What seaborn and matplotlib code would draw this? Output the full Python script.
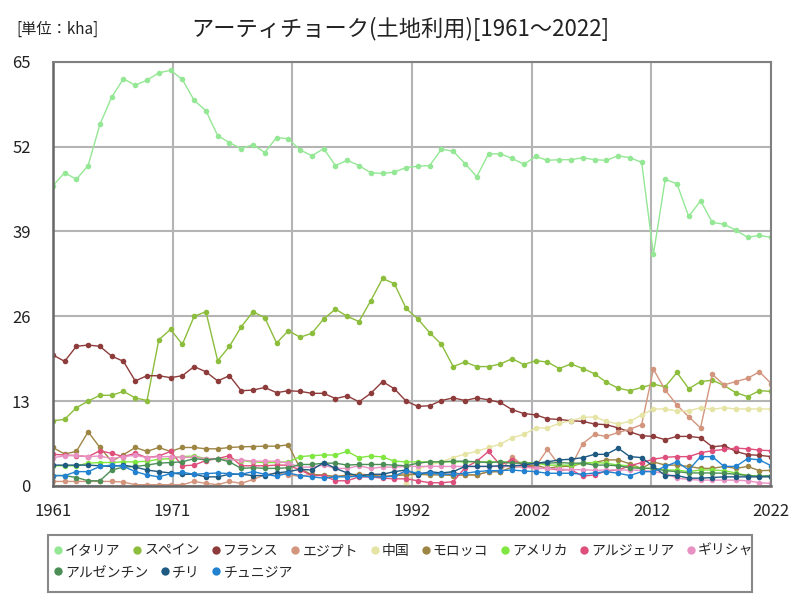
import numpy as np
import pandas as pd
import matplotlib
matplotlib.use("Agg")
import matplotlib.pyplot as plt
from matplotlib.lines import Line2D
from matplotlib.patches import Rectangle
import seaborn as sns

# data (kha)
years = list(range(1961, 2023))

italy = [46.0, 48.0, 47.0, 49.1, 55.4, 59.6, 62.4, 61.4, 62.2, 63.3,
         63.7, 62.3, 59.1, 57.5, 53.7, 52.6, 51.7, 52.3, 51.1, 53.4,
         53.2, 51.5, 50.6, 51.7, 49.1, 49.9, 49.1, 48.0, 47.9, 48.1,
         48.8, 49.0, 49.1, 51.6, 51.3, 49.4, 47.4, 50.9, 50.9, 50.2,
         49.3, 50.5, 49.9, 50.0, 50.0, 50.3, 50.0, 49.9, 50.6, 50.3,
         49.6, 35.5, 47.0, 46.3, 41.3, 43.7, 40.4, 40.1, 39.2, 38.1,
         38.4, 38.1]
spain = [10.0, 10.2, 12.0, 13.0, 13.9, 13.9, 14.5, 13.5, 13.1, 22.4,
         24.0, 21.7, 26.0, 26.7, 19.2, 21.4, 24.4, 26.7, 25.8, 21.9,
         23.8, 22.8, 23.4, 25.6, 27.1, 26.0, 25.2, 28.4, 31.8, 31.0,
         27.2, 25.6, 23.5, 21.7, 18.3, 19.0, 18.3, 18.3, 18.7, 19.5,
         18.6, 19.2, 19.0, 18.0, 18.7, 18.0, 17.2, 15.9, 15.0, 14.6,
         15.1, 15.6, 15.2, 17.4, 14.9, 16.0, 16.2, 15.4, 14.3, 13.7,
         14.6, 14.5]
france = [20.1, 19.1, 21.4, 21.6, 21.4, 19.9, 19.1, 16.1, 16.9, 16.9,
          16.6, 16.9, 18.3, 17.5, 16.1, 16.9, 14.6, 14.7, 15.1, 14.3,
          14.6, 14.5, 14.2, 14.2, 13.4, 13.8, 12.9, 14.2, 16.0, 14.9,
          13.0, 12.2, 12.3, 13.1, 13.5, 13.1, 13.5, 13.2, 12.8, 11.7,
          11.1, 10.9, 10.3, 10.2, 10.0, 9.9, 9.5, 9.4, 8.9, 8.3,
          7.7, 7.6, 7.1, 7.6, 7.6, 7.4, 6.0, 6.2, 5.3, 4.8,
          4.7, 4.5]
egypt = [0.7, 0.7, 0.7, 0.7, 0.7, 0.7, 0.6, 0.2, 0.2, 0.2,
         0.2, 0.2, 0.7, 0.4, 0.2, 0.7, 0.4, 1.0, 1.7, 2.0,
         1.7, 1.5, 1.8, 1.6, 1.5, 1.6, 1.5, 1.8, 1.5, 1.6,
         2.0, 2.0, 1.9, 1.9, 2.1, 1.7, 1.7, 2.2, 2.2, 4.5,
         3.0, 3.0, 5.6, 3.2, 3.0, 6.5, 7.9, 7.6, 8.2, 8.7,
         9.4, 17.9, 14.7, 12.4, 10.6, 8.9, 17.1, 15.5, 16.0, 16.5,
         17.5, 15.7]
china = [np.nan] * 30 + [
         0.5, 2.6, 3.2, 3.7, 4.35, 4.9, 5.3, 5.9, 6.4, 7.4,
         7.9, 8.9, 8.9, 9.6, 10.0, 10.5, 10.6, 9.9, 9.5, 9.9,
         10.9, 11.8, 11.8, 11.5, 11.5, 12.0, 11.75, 12.0, 11.8, 11.8,
         11.8, 11.8]
morocco = [5.9, 4.9, 5.3, 8.3, 5.9, 3.8, 4.8, 5.9, 5.3, 5.9,
           5.3, 5.9, 5.9, 5.7, 5.7, 5.9, 6.0, 6.05, 6.1, 6.1,
           6.3, 2.7, 1.7, 1.7, 1.4, 1.7, 1.8, 1.7, 1.4, 1.6,
           1.7, 1.8, 1.7, 1.7, 1.6, 1.7, 1.7, 2.2, 2.2, 2.9,
           3.0, 3.2, 2.7, 3.0, 3.0, 3.5, 3.6, 4.0, 4.0, 3.4,
           2.7, 3.7, 3.2, 3.2, 3.0, 2.7, 2.7, 3.0, 2.7, 3.0,
           2.35, 2.4]
usa = [3.1, 3.1, 3.1, 3.5, 3.6, 3.6, 3.7, 3.7, 3.8, 4.1,
       4.2, 4.5, 4.6, 4.2, 4.1, 4.2, 3.9, 3.7, 3.6, 3.6,
       3.7, 4.5, 4.65, 4.75, 4.75, 5.3, 4.35, 4.6, 4.45, 3.8,
       3.7, 3.7, 3.7, 3.7, 3.7, 3.7, 3.7, 3.7, 3.7, 3.7,
       3.6, 3.5, 3.2, 3.2, 3.2, 3.5, 3.6, 3.5, 3.2, 3.1,
       2.7, 2.7, 2.45, 2.45, 2.2, 2.45, 2.45, 2.35, 2.0, 1.6,
       1.5, 1.5]
algeria = [4.85, 4.75, 4.65, 4.5, 5.4, 5.0, 4.5, 5.0, 4.35, 4.6,
           5.3, 3.1, 3.2, 3.9, 4.2, 4.65, 3.1, 3.1, 3.1, 3.2,
           3.2, 2.45, 1.6, 1.6, 0.8, 0.8, 1.4, 1.4, 1.2, 1.1,
           1.1, 0.8, 0.5, 0.5, 0.66, 2.8, 3.8, 5.3, 3.2, 4.0,
           3.2, 2.7, 2.7, 2.45, 2.5, 1.5, 1.7, 2.3, 2.45, 3.1,
           3.6, 4.1, 4.4, 4.5, 4.5, 5.1, 5.4, 5.6, 5.8, 5.7,
           5.5, 5.4]
greece = [4.35, 4.6, 4.7, 4.5, 4.6, 4.2, 4.5, 4.7, 4.35, 4.5,
          4.5, 4.4, 4.4, 4.2, 4.2, 4.0, 4.0, 3.8, 3.8, 3.8,
          3.5, 2.9, 2.9, 3.2, 2.7, 2.7, 3.1, 2.7, 2.9, 2.9,
          3.0, 3.0, 3.0, 3.0, 3.0, 3.0, 3.0, 3.0, 3.0, 3.0,
          2.9, 2.7, 2.7, 2.6, 2.5, 2.5, 2.4, 2.45, 2.45, 2.45,
          2.4, 2.2, 1.95, 1.2, 1.0, 0.9, 0.9, 0.9, 0.9, 0.8,
          0.5, 0.4]
argentina = [1.6, 1.6, 1.3, 0.8, 0.8, 2.45, 2.9, 3.0, 3.2, 3.5,
             3.6, 3.7, 4.2, 4.0, 4.2, 3.7, 2.7, 2.8, 2.7, 2.7,
             2.8, 3.3, 3.3, 3.5, 3.5, 3.2, 3.3, 3.3, 3.3, 3.2,
             3.1, 3.5, 3.7, 3.7, 3.8, 3.8, 3.7, 3.6, 3.7, 3.5,
             3.5, 3.5, 3.5, 3.6, 3.5, 3.5, 3.2, 3.2, 3.1, 2.8,
             2.7, 2.7, 2.35, 2.2, 2.0, 2.0, 2.0, 1.95, 1.8, 1.6,
             1.5, 1.6]
chile = [3.2, 3.2, 3.2, 3.2, 3.1, 3.0, 3.2, 2.9, 2.45, 2.2,
         2.0, 1.8, 1.8, 1.4, 1.4, 1.8, 1.8, 1.6, 1.6, 2.0,
         2.2, 2.55, 2.45, 3.6, 2.7, 2.0, 1.5, 1.8, 1.8, 2.2,
         2.45, 1.7, 2.2, 2.0, 2.2, 3.0, 3.0, 3.0, 3.1, 3.1,
         3.2, 3.5, 3.7, 4.0, 4.1, 4.35, 4.85, 4.85, 5.8, 4.5,
         4.35, 3.0, 1.6, 1.6, 1.2, 1.2, 1.3, 1.4, 1.4, 1.4,
         1.4, 1.4]
tunisia = [1.6, 1.6, 2.2, 2.2, 3.0, 3.2, 3.0, 2.2, 1.7, 1.4,
           1.9, 2.1, 1.8, 1.9, 2.0, 1.9, 1.8, 2.2, 1.8, 1.5,
           2.0, 1.6, 1.4, 1.2, 1.4, 1.4, 1.5, 1.4, 1.4, 1.5,
           2.35, 1.95, 2.0, 1.8, 1.8, 1.95, 2.2, 2.35, 2.35, 2.45,
           2.3, 2.2, 1.95, 1.95, 1.95, 1.8, 2.0, 2.2, 1.95, 1.6,
           2.2, 2.2, 3.0, 3.7, 2.45, 4.5, 4.5, 3.0, 3.0, 4.2,
           4.0, 3.1]

countries = ["イタリア", "スペイン", "フランス", "エジプト", "中国", "モロッコ",
             "アメリカ", "アルジェリア", "ギリシャ", "アルゼンチン", "チリ", "チュニジア"]
series = [italy, spain, france, egypt, china, morocco,
          usa, algeria, greece, argentina, chile, tunisia]
colors = ["#94e794", "#8cbd3c", "#8e3b3b", "#d3957d", "#e6e4a4", "#9d8544",
          "#80e640", "#de4f7c", "#e891c2", "#4b8f57", "#1e5a82", "#2282d0"]

ytick_values = [0, 13, 26, 39, 52, 65]
xtick_labels = ["1961", "1971", "1981", "1992", "2002", "2012", "2022"]

# long table for seaborn
df = pd.DataFrame({
    "year": np.tile(years, len(countries)),
    "value": np.concatenate([np.array(s, dtype=float) for s in series]),
    "country": np.repeat(countries, len(years)),
})

sns.set_theme(style="white")
plt.rcParams["font.family"] = ["Noto Sans CJK JP", "DejaVu Sans"]

fig = plt.figure(figsize=(8, 6), dpi=100)
ax = fig.add_axes([0.066, 0.19, 0.898, 0.707])

palette = dict(zip(countries, colors))
for name in countries:
    sub = df[df["country"] == name]
    sns.lineplot(data=sub, x="year", y="value", ax=ax, color=palette[name],
                 marker="o", markersize=4, markeredgewidth=0, linewidth=1,
                 legend=False)

ax.set_xlim(years[0], years[-1])
ax.set_ylim(ytick_values[0], ytick_values[-1])
ax.set_yticks(ytick_values)
ax.set_yticklabels([str(v) for v in ytick_values])
xticks = np.linspace(years[0], years[-1], len(xtick_labels))
ax.set_xticks(xticks)
ax.set_xticklabels(xtick_labels)
ax.set_xlabel("")
ax.set_ylabel("")
ax.grid(True, color="#b4b4b4", linewidth=1.5)
ax.set_axisbelow(True)
ax.tick_params(axis="both", length=0, labelsize=12, colors="#222222")
ax.tick_params(axis="y", pad=16)
ax.tick_params(axis="x", pad=12)
for side in ["left", "bottom"]:
    ax.spines[side].set_color("#666666")
    ax.spines[side].set_linewidth(1.8)
for side in ["top", "right"]:
    ax.spines[side].set_color("#808080")
    ax.spines[side].set_linewidth(1.5)

fig.text(0.5, 0.952, "アーティチョーク(土地利用)[1961～2022]", ha="center", va="center",
         fontsize=16, color="#222222")
fig.text(0.02, 0.952, "[単位：kha]", ha="left", va="center", fontsize=11, color="#222222")

# legend: two rows in one box
handles = [Line2D([], [], linestyle="none", marker="o", markersize=6,
                  markeredgewidth=0, color=c) for c in colors]
common = dict(frameon=False, fontsize=10, handletextpad=0.0, columnspacing=0.7,
              handlelength=1.0, borderpad=0, borderaxespad=0)
leg1 = fig.legend(handles[:9], countries[:9], ncol=9, loc="center left",
                  bbox_to_anchor=(0.064, 0.082), **common)
leg2 = fig.legend(handles[9:], countries[9:], ncol=3, loc="center left",
                  bbox_to_anchor=(0.064, 0.047), **common)
fig.patches.append(Rectangle((0.06, 0.014), 0.88, 0.094, transform=fig.transFigure,
                             fill=False, edgecolor="#888888", linewidth=1.5))

fig.savefig("out.png", dpi=100)
